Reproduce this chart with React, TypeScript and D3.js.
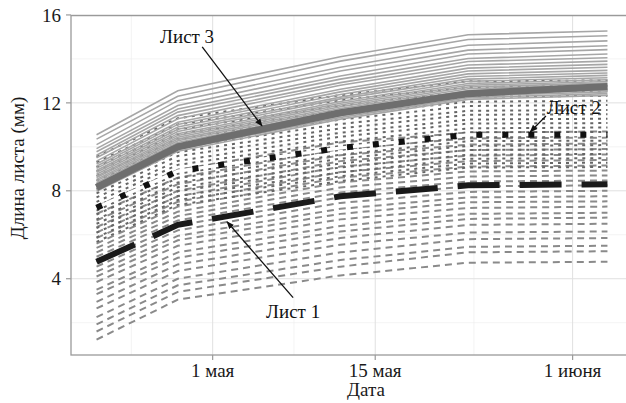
import React from "react"
import { scaleTime, scaleLinear, line } from "d3"

const may = (n: number) => new Date(new Date(2019, 4, 1).getTime() + n * 864e5)

// measurement dates
const dates = [may(-10), may(-3), may(11), may(22), may(34)]

// Лист 3, solid lines
const leaf3Lines = [
  [10.55, 12.55, 14.1, 15.1, 15.27],
  [10.35, 12.3, 13.9, 14.88, 15.05],
  [10.1, 12.1, 13.62, 14.62, 14.82],
  [9.92, 11.88, 13.45, 14.4, 14.6],
  [9.78, 11.72, 13.22, 14.22, 14.42],
  [9.62, 11.58, 13.08, 14.02, 14.22],
  [9.5, 11.42, 12.92, 13.88, 14.05],
  [9.35, 11.28, 12.8, 13.72, 13.9],
  [9.22, 11.12, 12.62, 13.58, 13.75],
  [9.12, 11.02, 12.5, 13.45, 13.62],
  [9.02, 10.9, 12.38, 13.32, 13.48],
  [8.92, 10.8, 12.26, 13.2, 13.36],
  [8.84, 10.7, 12.18, 13.08, 13.25],
  [8.75, 10.6, 12.06, 12.98, 13.14],
  [8.66, 10.52, 11.98, 12.88, 13.05],
  [8.6, 10.44, 11.9, 12.8, 12.97],
  [8.52, 10.35, 11.82, 12.72, 12.9],
  [8.45, 10.28, 11.74, 12.64, 12.82],
  [8.37, 10.2, 11.66, 12.56, 12.74],
  [8.3, 10.12, 11.58, 12.48, 12.66],
  [8.22, 10.04, 11.5, 12.4, 12.58],
  [8.14, 9.96, 11.42, 12.32, 12.5],
  [8.06, 9.88, 11.34, 12.24, 12.42],
  [7.98, 9.8, 11.26, 12.16, 12.34],
]
const leaf3Mean = [8.15, 10.0, 11.55, 12.42, 12.75]

// Лист 2, dotted lines
const leaf2Lines = [
  [9.55, 11.3, 12.35, 12.98, 13.02],
  [9.3, 11.02, 12.12, 12.72, 12.78],
  [9.08, 10.8, 11.88, 12.5, 12.55],
  [8.88, 10.58, 11.66, 12.28, 12.32],
  [8.68, 10.36, 11.46, 12.05, 12.1],
  [8.46, 10.16, 11.24, 11.86, 11.9],
  [8.28, 9.96, 11.04, 11.64, 11.68],
  [8.08, 9.76, 10.84, 11.46, 11.48],
  [7.88, 9.58, 10.64, 11.24, 11.28],
  [7.7, 9.36, 10.46, 11.06, 11.08],
  [7.5, 9.18, 10.24, 10.84, 10.88],
  [7.3, 8.96, 10.04, 10.66, 10.68],
  [7.1, 8.78, 9.86, 10.44, 10.48],
  [6.92, 8.58, 9.64, 10.26, 10.28],
  [6.7, 8.38, 9.46, 10.04, 10.08],
  [6.5, 8.16, 9.24, 9.86, 9.88],
  [6.3, 7.98, 9.06, 9.64, 9.68],
  [6.1, 7.76, 8.84, 9.46, 9.48],
  [5.88, 7.58, 8.66, 9.24, 9.28],
  [5.68, 7.36, 8.44, 9.06, 9.08],
]
const leaf2Mean = [7.23, 8.9, 9.95, 10.55, 10.55]

// Лист 1, dashed lines
const leaf1Lines = [
  [1.23, 3.05, 4.15, 4.73, 4.77],
  [1.6, 3.4, 4.55, 5.2, 5.25],
  [1.92, 3.7, 4.85, 5.45, 5.5],
  [2.25, 4.0, 5.2, 5.8, 5.85],
  [2.65, 4.35, 5.55, 6.1, 6.15],
  [2.95, 4.65, 5.85, 6.45, 6.5],
  [3.3, 4.95, 6.15, 6.72, 6.78],
  [3.5, 5.2, 6.4, 6.95, 7.0],
  [3.85, 5.5, 6.7, 7.22, 7.28],
  [4.1, 5.75, 6.95, 7.48, 7.52],
  [4.32, 5.95, 7.18, 7.7, 7.75],
  [4.55, 6.2, 7.45, 7.95, 8.0],
  [4.77, 6.42, 7.7, 8.2, 8.25],
  [5.0, 6.65, 7.92, 8.42, 8.47],
  [5.2, 6.85, 8.15, 8.65, 8.7],
  [5.4, 7.05, 8.38, 8.88, 8.92],
  [5.6, 7.28, 8.6, 9.1, 9.15],
  [5.85, 7.5, 8.85, 9.35, 9.4],
  [6.1, 7.75, 9.1, 9.6, 9.65],
  [6.35, 8.0, 9.35, 9.85, 9.9],
  [6.65, 8.3, 9.62, 10.1, 10.15],
  [6.95, 8.6, 9.9, 10.38, 10.42],
  [7.3, 8.95, 10.2, 10.65, 10.7],
]
const leaf1Mean = [4.77, 6.45, 7.75, 8.25, 8.3]

const xTicks = [may(0), may(14), may(31)]
const xTickLabels = ["1 мая", "15 мая", "1 июня"]
const xMinor = [may(-7), may(7), may(22.5)]
const yTicks = [4, 8, 12, 16]
const yMinor = [2, 6, 10, 14]

// label: [day offset from 1 May, value], arrow from, arrow to
const notes = [
  { text: "Лист 3", at: [-2.2, 14.73], from: [-0.9, 14.55], to: [4.25, 10.95] },
  { text: "Лист 2", at: [31.1, 11.5], from: [28.7, 11.4], to: [27.35, 10.68] },
  { text: "Лист 1", at: [6.93, 2.23], from: [6.93, 3.14], to: [1.24, 6.59] },
]

export default function App() {
  const width = 626
  const height = 403
  const left = 71
  const right = 633
  const top = 15.6
  const bottom = 355

  const x = scaleTime()
    .domain([may(-12.2), may(36.2)])
    .range([left, right])
  const y = scaleLinear().domain([0.53, 15.97]).range([bottom, top])

  const path = line<number>()
    .x((d, i) => x(dates[i]))
    .y(d => y(d))

  const font = "Liberation Serif, Tinos, DejaVu Serif, serif"

  return (
    <svg
      width={width}
      height={height}
      style={{ position: "absolute", left: 0, top: 0, background: "#fff", fontFamily: font }}
    >
      <defs>
        <marker
          id="arrow"
          viewBox="0 0 10 10"
          refX="9"
          refY="5"
          markerWidth="6"
          markerHeight="6"
          orient="auto"
        >
          <path d="M0,1L10,5L0,9z" fill="#111" />
        </marker>
      </defs>

      {/* grid */}
      <g>
        {yMinor.map(v => (
          <line key={"ym" + v} x1={left} x2={right} y1={y(v)} y2={y(v)} stroke="#ececec" strokeWidth={0.6} />
        ))}
        {xMinor.map((d, i) => (
          <line key={"xm" + i} x1={x(d)} x2={x(d)} y1={top} y2={bottom} stroke="#ececec" strokeWidth={0.6} />
        ))}
        {yTicks.map(v => (
          <line key={"yg" + v} x1={left} x2={right} y1={y(v)} y2={y(v)} stroke="#e0e0e0" strokeWidth={1} />
        ))}
        {xTicks.map((d, i) => (
          <line key={"xg" + i} x1={x(d)} x2={x(d)} y1={top} y2={bottom} stroke="#e0e0e0" strokeWidth={1} />
        ))}
      </g>

      {/* individual leaves */}
      <g fill="none">
        {leaf1Lines.map((l, i) => (
          <path key={"l1" + i} d={path(l) || ""} stroke="#8a8a8a" strokeWidth={2} strokeDasharray="7,5" />
        ))}
        {leaf2Lines.map((l, i) => (
          <path key={"l2" + i} d={path(l) || ""} stroke="#666" strokeWidth={2} strokeDasharray="3,5" />
        ))}
        {leaf3Lines.map((l, i) => (
          <path key={"l3" + i} d={path(l) || ""} stroke="#a6a6a6" strokeWidth={1.6} />
        ))}
      </g>

      {/* means */}
      <g fill="none">
        <path d={path(leaf3Mean) || ""} stroke="#6e6e6e" strokeWidth={7} />
        <path d={path(leaf2Mean) || ""} stroke="#fff" strokeWidth={3} />
        <path d={path(leaf2Mean) || ""} stroke="#111" strokeWidth={6} strokeDasharray="6,20" />
        <path d={path(leaf1Mean) || ""} stroke="#1a1a1a" strokeWidth={6} strokeDasharray="42,20" />
      </g>

      {/* panel border */}
      <rect x={left} y={top} width={right - left} height={bottom - top} fill="none" stroke="#9a9a9a" strokeWidth={1.3} />

      {/* y axis */}
      <g>
        {yTicks.map(v => (
          <g key={"yt" + v}>
            <line x1={left - 5} x2={left} y1={y(v)} y2={y(v)} stroke="#9a9a9a" strokeWidth={1.2} />
            <text x={left - 10} y={y(v)} dy="0.35em" textAnchor="end" fontSize={19} fill="#1a1a1a">
              {v}
            </text>
          </g>
        ))}
        <text
          transform={"translate(24," + 168 + ") rotate(-90)"}
          textAnchor="middle"
          fontSize={19}
          fill="#1a1a1a"
        >
          Длина листа (мм)
        </text>
      </g>

      {/* x axis */}
      <g>
        {xTicks.map((d, i) => (
          <g key={"xt" + i}>
            <line x1={x(d)} x2={x(d)} y1={bottom} y2={bottom + 5} stroke="#9a9a9a" strokeWidth={1.2} />
            <text x={x(d)} y={bottom + 22} textAnchor="middle" fontSize={19} fill="#1a1a1a">
              {xTickLabels[i]}
            </text>
          </g>
        ))}
        <text x={366} y={396} textAnchor="middle" fontSize={19} fill="#1a1a1a">
          Дата
        </text>
      </g>

      {/* annotations */}
      <g>
        {notes.map(n => (
          <g key={n.text}>
            <line
              x1={x(may(n.from[0]))}
              y1={y(n.from[1])}
              x2={x(may(n.to[0]))}
              y2={y(n.to[1])}
              stroke="#111"
              strokeWidth={1.3}
              markerEnd="url(#arrow)"
            />
            <text x={x(may(n.at[0]))} y={y(n.at[1])} textAnchor="middle" fontSize={19} fill="#111">
              {n.text}
            </text>
          </g>
        ))}
      </g>
    </svg>
  )
}
